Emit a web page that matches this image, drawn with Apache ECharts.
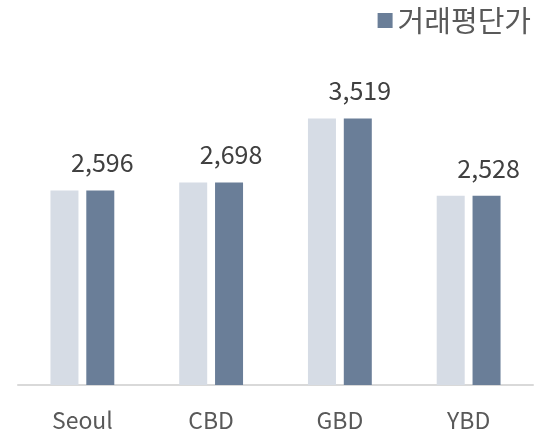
<!DOCTYPE html>
<html><head><meta charset="utf-8">
<script src="https://cdn.jsdelivr.net/npm/echarts@6/dist/echarts.min.js"></script>
<style>html,body{margin:0;padding:0;background:#fff}#c{width:542px;height:440px}</style>
</head><body><div id="c"></div>
<script>
const categories = ['Seoul', 'CBD', 'GBD', 'YBD'];
const shadowValues = [2596, 2698, 3519, 2528];
const priceValues = [2596, 2698, 3519, 2528];
const legendName = '거래평단가';

const chart = echarts.init(document.getElementById('c'));
const FF = '"Noto Sans CJK KR", "Noto Sans", sans-serif';
chart.setOption({
  animation: false,
  grid: { left: 18, right: 9, top: 81, bottom: 55 },
  legend: {
    data: [legendName], right: 6, top: 1, icon: 'rect', itemWidth: 15, itemHeight: 15, itemGap: 5,
    textStyle: { fontSize: 29, color: '#595959', fontFamily: FF }
  },
  xAxis: {
    type: 'category', data: categories,
    axisLine: { lineStyle: { color: '#D9D9D9', width: 2 } },
    axisTick: { show: false },
    axisLabel: { fontSize: 23, color: '#595959', fontFamily: FF, margin: 24 }
  },
  yAxis: { type: 'value', min: 100, max: 4000, show: false, splitLine: { show: false } },
  series: [
    { name: 'shadow', type: 'bar', data: shadowValues, barWidth: 28, barGap: '28%', itemStyle: { color: '#D6DCE5' } },
    { name: legendName, type: 'bar', data: priceValues, barWidth: 28, itemStyle: { color: '#6A7E98' },
      label: { show: true, position: 'top', distance: 15, offset: [2, 0], fontSize: 25, color: '#404040', fontFamily: FF,
        formatter: p => p.value.toLocaleString('en-US') } }
  ]
});
</script></body></html>
